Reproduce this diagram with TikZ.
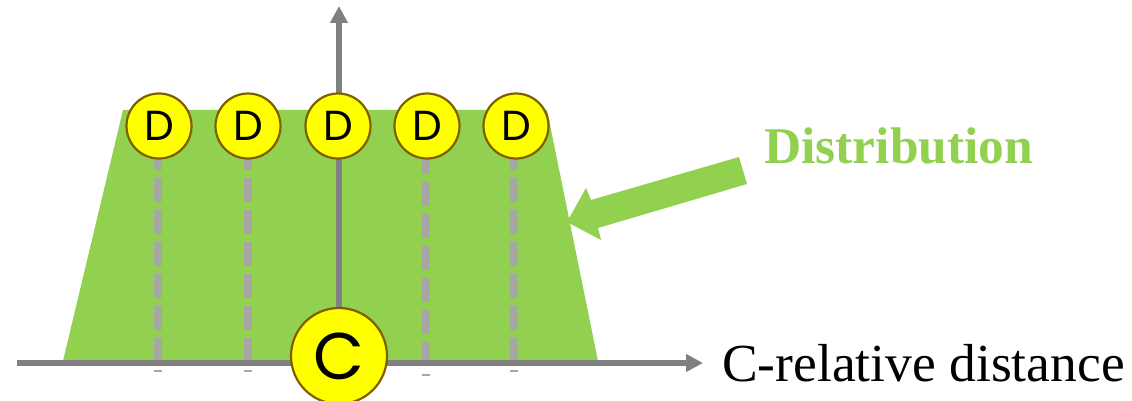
\documentclass[tikz,border=0pt]{standalone}
\usepackage{fontspec}
\setmainfont{Liberation Serif}
\newfontfamily\dfont{Poppins}
\usetikzlibrary{arrows.meta}
\definecolor{grn}{HTML}{92D050}
\definecolor{axgray}{HTML}{808080}
\definecolor{dgray}{HTML}{A6A6A6}
\definecolor{brn}{HTML}{7F6000}
\definecolor{yel}{HTML}{FFFF00}
\tikzset{
  axisline/.style={draw=axgray, line width=6pt, -{Triangle[length=17pt,width=17pt]}},
  dashline/.style={draw=dgray, line width=8pt, dash pattern=on 24pt off 8pt},
  dcirc/.style={circle, fill=yel, draw=brn, line width=2.2pt, minimum size=65pt, inner sep=0pt, font=\dfont\fontsize{42}{42}\selectfont},
  ccirc/.style={circle, fill=yel, draw=brn, line width=2.2pt, minimum size=96pt, inner sep=0pt, font=\dfont\fontsize{66}{66}\selectfont},
  lbl/.style={inner sep=0pt, anchor=base west}
}
\begin{document}
\begin{tikzpicture}[x=1pt,y=-1pt]
\useasboundingbox (0,0) rectangle (1132,401);
% distribution trapezoid
\fill[grn] (123,110) -- (547,110) -- (598,361) -- (63,361) -- cycle;
% dashed guide lines
\coordinate (t1) at (158,146); \coordinate (b1) at (158,372);
\coordinate (t2) at (248,146); \coordinate (b2) at (248,372);
\coordinate (t4) at (426,150); \coordinate (b4) at (426,376);
\coordinate (t5) at (514,146); \coordinate (b5) at (514,372);
\draw[dashline] (t1) -- (b1);
\draw[dashline] (t2) -- (b2);
\draw[dashline] (t4) -- (b4);
\draw[dashline] (t5) -- (b5);
% axes
\coordinate (xo) at (17,363); \coordinate (xe) at (703,363);
\coordinate (yo) at (339,340); \coordinate (ye) at (339,6);
\draw[axisline] (xo) -- (xe);
\draw[axisline] (yo) -- (ye);
% D nodes
\node[dcirc] (d1) at (159,126) {D};
\node[dcirc] (d2) at (248,126) {D};
\node[dcirc] (d3) at (338,126) {D};
\node[dcirc] (d4) at (427,126) {D};
\node[dcirc] (d5) at (516,126) {D};
% C node
\node[ccirc] (c) at (339,356) {C};
% block arrow
\fill[grn] (739,157) -- (747,184) -- (598,228) -- (601,240) -- (567,222) -- (586,188) -- (591,200) -- cycle;
% labels
\node[lbl, text=grn, font=\bfseries\fontsize{51.5}{55}\selectfont] (dist) at (764,163) {Distribution};
\node[lbl, font=\fontsize{53.5}{58}\selectfont] (xl) at (722,381) {C-relative distance};
\end{tikzpicture}
\end{document}
